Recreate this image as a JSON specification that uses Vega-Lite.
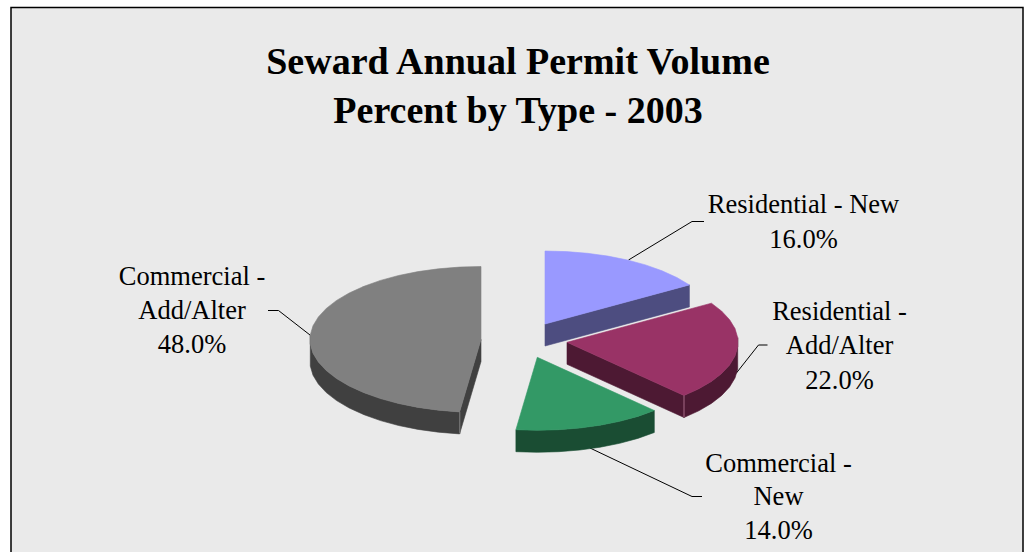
{"$schema":"https://vega.github.io/schema/vega-lite/v6.json","width":1032,"height":552,"padding":0,"autosize":"none","background":"white","view":{"stroke":null},
"datasets":{
"frame":[{"x":11,"x2":1023,"y":7.5,"y2":575}],
"leaders":[
{"name":"blue","seq":1,"x":628.5,"y":260},{"name":"blue","seq":2,"x":692,"y":221.5},{"name":"blue","seq":3,"x":704,"y":221.5},
{"name":"red","seq":1,"x":736,"y":373.5},{"name":"red","seq":2,"x":758.5,"y":345},{"name":"red","seq":3,"x":767.5,"y":345},
{"name":"green","seq":1,"x":590,"y":448},{"name":"green","seq":2,"x":692,"y":496.5},{"name":"green","seq":3,"x":702,"y":496.5},
{"name":"gray","seq":1,"x":310,"y":335},{"name":"gray","seq":2,"x":278.5,"y":310.5},{"name":"gray","seq":3,"x":268,"y":310.5}],
"faces":[
{"face":"gray side","seq":1,"x":310.3,"y":334.9},{"face":"gray side","seq":2,"x":310.3,"y":344.1},{"face":"gray side","seq":3,"x":313,"y":353.2},{"face":"gray side","seq":4,"x":318.4,"y":362.1},{"face":"gray side","seq":5,"x":326.3,"y":370.6},{"face":"gray side","seq":6,"x":336.6,"y":378.6},{"face":"gray side","seq":7,"x":349.2,"y":386},{"face":"gray side","seq":8,"x":364,"y":392.7},{"face":"gray side","seq":9,"x":380.5,"y":398.6},{"face":"gray side","seq":10,"x":398.6,"y":403.5},{"face":"gray side","seq":11,"x":418.1,"y":407.4},{"face":"gray side","seq":12,"x":438.5,"y":410.2},{"face":"gray side","seq":13,"x":459.6,"y":411.9},{"face":"gray side","seq":14,"x":459.6,"y":433.9},{"face":"gray side","seq":15,"x":438.5,"y":432.2},{"face":"gray side","seq":16,"x":418.1,"y":429.4},{"face":"gray side","seq":17,"x":398.6,"y":425.5},{"face":"gray side","seq":18,"x":380.5,"y":420.6},{"face":"gray side","seq":19,"x":364,"y":414.7},{"face":"gray side","seq":20,"x":349.2,"y":408},{"face":"gray side","seq":21,"x":336.6,"y":400.6},{"face":"gray side","seq":22,"x":326.3,"y":392.6},{"face":"gray side","seq":23,"x":318.4,"y":384.1},{"face":"gray side","seq":24,"x":313,"y":375.2},{"face":"gray side","seq":25,"x":310.3,"y":366.1},{"face":"gray side","seq":26,"x":310.3,"y":356.9},{"face":"gray side","seq":27,"x":310.3,"y":334.9},
{"face":"gray wall","seq":1,"x":481,"y":339.5},{"face":"gray wall","seq":2,"x":459.6,"y":411.9},{"face":"gray wall","seq":3,"x":459.6,"y":433.9},{"face":"gray wall","seq":4,"x":481,"y":361.5},{"face":"gray wall","seq":5,"x":481,"y":339.5},
{"face":"gray top","seq":0,"x":481,"y":339.5},{"face":"gray top","seq":1,"x":481,"y":266.5},{"face":"gray top","seq":2,"x":459.6,"y":267.1},{"face":"gray top","seq":3,"x":438.5,"y":268.8},{"face":"gray top","seq":4,"x":418.1,"y":271.6},{"face":"gray top","seq":5,"x":398.6,"y":275.5},{"face":"gray top","seq":6,"x":380.5,"y":280.4},{"face":"gray top","seq":7,"x":364,"y":286.3},{"face":"gray top","seq":8,"x":349.2,"y":293},{"face":"gray top","seq":9,"x":336.6,"y":300.4},{"face":"gray top","seq":10,"x":326.3,"y":308.4},{"face":"gray top","seq":11,"x":318.4,"y":316.9},{"face":"gray top","seq":12,"x":313,"y":325.8},{"face":"gray top","seq":13,"x":310.3,"y":334.9},{"face":"gray top","seq":14,"x":310.3,"y":344.1},{"face":"gray top","seq":15,"x":313,"y":353.2},{"face":"gray top","seq":16,"x":318.4,"y":362.1},{"face":"gray top","seq":17,"x":326.3,"y":370.6},{"face":"gray top","seq":18,"x":336.6,"y":378.6},{"face":"gray top","seq":19,"x":349.2,"y":386},{"face":"gray top","seq":20,"x":364,"y":392.7},{"face":"gray top","seq":21,"x":380.5,"y":398.6},{"face":"gray top","seq":22,"x":398.6,"y":403.5},{"face":"gray top","seq":23,"x":418.1,"y":407.4},{"face":"gray top","seq":24,"x":438.5,"y":410.2},{"face":"gray top","seq":25,"x":459.6,"y":411.9},{"face":"gray top","seq":26,"x":481,"y":339.5},
{"face":"blue wall","seq":1,"x":545,"y":324},{"face":"blue wall","seq":2,"x":689.4,"y":284.9},{"face":"blue wall","seq":3,"x":689.4,"y":306.9},{"face":"blue wall","seq":4,"x":545,"y":346},{"face":"blue wall","seq":5,"x":545,"y":324},
{"face":"blue top","seq":0,"x":545,"y":324},{"face":"blue top","seq":1,"x":545,"y":251},{"face":"blue top","seq":2,"x":566.4,"y":251.6},{"face":"blue top","seq":3,"x":587.5,"y":253.3},{"face":"blue top","seq":4,"x":607.9,"y":256.1},{"face":"blue top","seq":5,"x":627.4,"y":260},{"face":"blue top","seq":6,"x":645.5,"y":264.9},{"face":"blue top","seq":7,"x":662,"y":270.8},{"face":"blue top","seq":8,"x":676.8,"y":277.5},{"face":"blue top","seq":9,"x":689.4,"y":284.9},{"face":"blue top","seq":10,"x":545,"y":324},
{"face":"red side","seq":1,"x":737.7,"y":337.7},{"face":"red side","seq":2,"x":737.7,"y":346.9},{"face":"red side","seq":3,"x":735,"y":356},{"face":"red side","seq":4,"x":729.6,"y":364.9},{"face":"red side","seq":5,"x":721.7,"y":373.4},{"face":"red side","seq":6,"x":711.4,"y":381.4},{"face":"red side","seq":7,"x":698.8,"y":388.8},{"face":"red side","seq":8,"x":684,"y":395.5},{"face":"red side","seq":9,"x":684,"y":417.5},{"face":"red side","seq":10,"x":698.8,"y":410.8},{"face":"red side","seq":11,"x":711.4,"y":403.4},{"face":"red side","seq":12,"x":721.7,"y":395.4},{"face":"red side","seq":13,"x":729.6,"y":386.9},{"face":"red side","seq":14,"x":735,"y":378},{"face":"red side","seq":15,"x":737.7,"y":368.9},{"face":"red side","seq":16,"x":737.7,"y":359.7},{"face":"red side","seq":17,"x":737.7,"y":337.7},
{"face":"red wall","seq":1,"x":567,"y":342.3},{"face":"red wall","seq":2,"x":684,"y":395.5},{"face":"red wall","seq":3,"x":684,"y":417.5},{"face":"red wall","seq":4,"x":567,"y":364.3},{"face":"red wall","seq":5,"x":567,"y":342.3},
{"face":"red top","seq":0,"x":567,"y":342.3},{"face":"red top","seq":1,"x":711.4,"y":303.2},{"face":"red top","seq":2,"x":721.7,"y":311.2},{"face":"red top","seq":3,"x":729.6,"y":319.7},{"face":"red top","seq":4,"x":735,"y":328.6},{"face":"red top","seq":5,"x":737.7,"y":337.7},{"face":"red top","seq":6,"x":737.7,"y":346.9},{"face":"red top","seq":7,"x":735,"y":356},{"face":"red top","seq":8,"x":729.6,"y":364.9},{"face":"red top","seq":9,"x":721.7,"y":373.4},{"face":"red top","seq":10,"x":711.4,"y":381.4},{"face":"red top","seq":11,"x":698.8,"y":388.8},{"face":"red top","seq":12,"x":684,"y":395.5},{"face":"red top","seq":13,"x":567,"y":342.3},
{"face":"green side","seq":1,"x":654.3,"y":410.5},{"face":"green side","seq":2,"x":637.8,"y":416.4},{"face":"green side","seq":3,"x":619.7,"y":421.3},{"face":"green side","seq":4,"x":600.2,"y":425.2},{"face":"green side","seq":5,"x":579.8,"y":428},{"face":"green side","seq":6,"x":558.7,"y":429.7},{"face":"green side","seq":7,"x":537.3,"y":430.3},{"face":"green side","seq":8,"x":515.9,"y":429.7},{"face":"green side","seq":9,"x":515.9,"y":451.7},{"face":"green side","seq":10,"x":537.3,"y":452.3},{"face":"green side","seq":11,"x":558.7,"y":451.7},{"face":"green side","seq":12,"x":579.8,"y":450},{"face":"green side","seq":13,"x":600.2,"y":447.2},{"face":"green side","seq":14,"x":619.7,"y":443.3},{"face":"green side","seq":15,"x":637.8,"y":438.4},{"face":"green side","seq":16,"x":654.3,"y":432.5},{"face":"green side","seq":17,"x":654.3,"y":410.5},
{"face":"green top","seq":0,"x":537.3,"y":357.3},{"face":"green top","seq":1,"x":654.3,"y":410.5},{"face":"green top","seq":2,"x":637.8,"y":416.4},{"face":"green top","seq":3,"x":619.7,"y":421.3},{"face":"green top","seq":4,"x":600.2,"y":425.2},{"face":"green top","seq":5,"x":579.8,"y":428},{"face":"green top","seq":6,"x":558.7,"y":429.7},{"face":"green top","seq":7,"x":537.3,"y":430.3},{"face":"green top","seq":8,"x":515.9,"y":429.7},{"face":"green top","seq":9,"x":537.3,"y":357.3}],
"edges":[
{"name":"gray","seq":1,"x":459.8,"y":412},{"name":"gray","seq":2,"x":459.8,"y":433.5},
{"name":"red","seq":1,"x":684,"y":395.5},{"name":"red","seq":2,"x":684,"y":417}],
"labels":[
{"text":"Seward Annual Permit Volume","kind":"title","x":518,"y":74},{"text":"Percent by Type - 2003","kind":"title","x":518,"y":123},
{"text":"Residential - New","kind":"label","x":803.5,"y":212.5},{"text":"16.0%","kind":"label","x":803.5,"y":247.5},
{"text":"Residential -","kind":"label","x":839.5,"y":319.5},{"text":"Add/Alter","kind":"label","x":839.5,"y":354},{"text":"22.0%","kind":"label","x":839.5,"y":388.5},
{"text":"Commercial -","kind":"label","x":778.5,"y":471.5},{"text":"New","kind":"label","x":778.5,"y":505},{"text":"14.0%","kind":"label","x":778.5,"y":539},
{"text":"Commercial -","kind":"label","x":192,"y":285},{"text":"Add/Alter","kind":"label","x":192,"y":319},{"text":"48.0%","kind":"label","x":192,"y":353}]},
"layer":[
{"data":{"name":"frame"},"mark":{"type":"rect","fill":"#eaeaea","stroke":"#000000","strokeWidth":1.5},
"encoding":{"x":{"field":"x","type":"quantitative","axis":null,"scale":{"domain":[0,1032],"range":[0,1032],"nice":false,"zero":false}},"x2":{"field":"x2"},"y":{"field":"y","type":"quantitative","axis":null,"scale":{"domain":[0,552],"range":[0,552],"nice":false,"zero":false}},"y2":{"field":"y2"}}},
{"data":{"name":"leaders"},"mark":{"type":"line","stroke":"#000000","strokeWidth":1,"interpolate":"linear"},
"encoding":{"x":{"field":"x","type":"quantitative"},"y":{"field":"y","type":"quantitative"},"detail":{"field":"name"},"order":{"field":"seq","type":"quantitative"}}},
{"data":{"name":"faces"},"mark":{"type":"line","filled":true,"strokeWidth":0.6,"interpolate":"linear"},
"encoding":{"x":{"field":"x","type":"quantitative"},"y":{"field":"y","type":"quantitative"},"order":{"field":"seq","type":"quantitative"},
"fill":{"field":"face","type":"nominal","legend":null,"sort":null,"scale":{"domain":["gray side","gray wall","gray top","blue wall","blue top","red side","red wall","red top","green side","green top"],"range":["#404040","#404040","#808080","#4d4d80","#9999ff","#4d1933","#4d1933","#993366","#1a4d33","#339966"]}},
"stroke":{"field":"face","type":"nominal","legend":null,"sort":null,"scale":{"domain":["gray side","gray wall","gray top","blue wall","blue top","red side","red wall","red top","green side","green top"],"range":["#404040","#404040","#808080","#4d4d80","#9999ff","#4d1933","#4d1933","#993366","#1a4d33","#339966"]}}}},
{"data":{"name":"edges"},"mark":{"type":"line","strokeWidth":1,"interpolate":"linear"},
"encoding":{"x":{"field":"x","type":"quantitative"},"y":{"field":"y","type":"quantitative"},"order":{"field":"seq","type":"quantitative"},"color":{"field":"name","type":"nominal","legend":null,"scale":{"domain":["gray","red"],"range":["#808080","#a66a86"]}}}},
{"data":{"name":"labels"},"transform":[{"filter":"datum.kind==='title'"}],"mark":{"type":"text","font":"Liberation Serif","fontSize":38,"fontWeight":"bold","align":"center","baseline":"alphabetic","color":"#000000"},
"encoding":{"x":{"field":"x","type":"quantitative"},"y":{"field":"y","type":"quantitative"},"text":{"field":"text"}}},
{"data":{"name":"labels"},"transform":[{"filter":"datum.kind==='label'"}],"mark":{"type":"text","font":"Liberation Serif","fontSize":26.5,"align":"center","baseline":"alphabetic","color":"#000000"},
"encoding":{"x":{"field":"x","type":"quantitative"},"y":{"field":"y","type":"quantitative"},"text":{"field":"text"}}}
]}
